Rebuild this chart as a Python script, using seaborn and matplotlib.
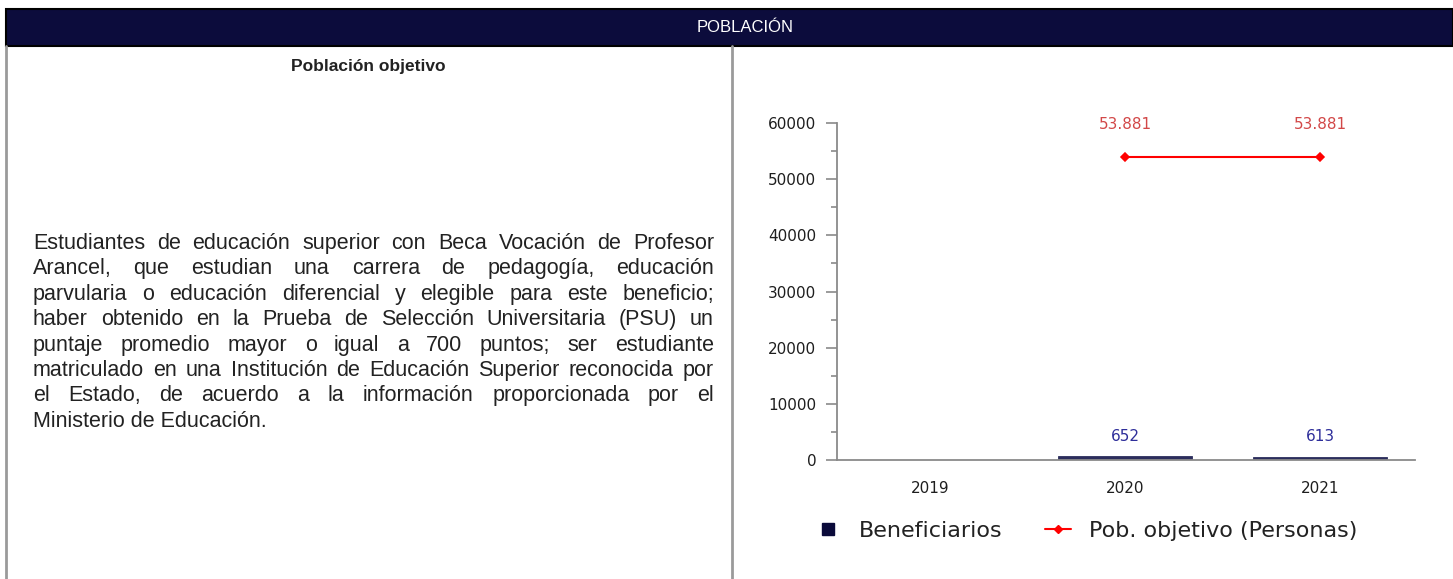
import matplotlib
matplotlib.use("Agg")
import matplotlib.pyplot as plt
import seaborn as sns
import pandas as pd
import numpy as np
from matplotlib.lines import Line2D
from matplotlib.patches import Rectangle
from matplotlib.ticker import MultipleLocator
from matplotlib.font_manager import FontProperties

# ---------------- data ----------------
years = ["2019", "2020", "2021"]
beneficiarios = [np.nan, 652, 613]
pob_objetivo = [np.nan, 53881, 53881]
y_ticks = [0, 10000, 20000, 30000, 40000, 50000, 60000]
legend_labels = ["Beneficiarios", "Pob. objetivo (Personas)"]
header_title = "POBLACIÓN"
panel_title = "Población objetivo"
body_lines = [
    "Estudiantes de educación superior con Beca Vocación de Profesor",
    "Arancel, que estudian una carrera de pedagogía, educación",
    "parvularia o educación diferencial y elegible para este beneficio;",
    "haber obtenido en la Prueba de Selección Universitaria (PSU) un",
    "puntaje promedio mayor o igual a 700 puntos; ser estudiante",
    "matriculado en una Institución de Educación Superior reconocida por",
    "el Estado, de acuerdo a la información proporcionada por el",
    "Ministerio de Educación.",
]

W, H = 1453, 579
sns.set_theme(style="white")
plt.rcParams["font.family"] = ["DejaVu Sans"]

fig = plt.figure(figsize=(W / 100, H / 100), dpi=100)


def fx(x):
    return x / W


def fy(y):
    return 1 - y / H


# ---------------- frame / header ----------------
fig.patches.append(Rectangle((fx(6), fy(46)), fx(W) - fx(6), (46 - 9) / H,
                             transform=fig.transFigure, facecolor="#0c0c3c",
                             edgecolor="#000000", lw=1.5, zorder=0))
for xline in (6, 732):
    fig.lines.append(Line2D([fx(xline), fx(xline)], [fy(46), fy(H)],
                            transform=fig.transFigure, color="#9a9a9a", lw=2))

arial = "Liberation Sans"
fig.text(fx(745), fy(28), header_title, color="white", ha="center", va="center",
         family=arial, fontsize=12)
fig.text(fx(368), fy(67), panel_title, color="#222222", ha="center", va="center",
         family=arial, fontsize=12.5, fontweight="bold")

# ---------------- justified body text ----------------
fp = FontProperties(family=arial, size=15.5)
renderer = fig.canvas.get_renderer()
x_left, x_right = 33, 714
base0, line_gap = 249, 25.4
for i, line in enumerate(body_lines):
    yb = base0 + i * line_gap
    words = line.split(" ")
    if i == len(body_lines) - 1 or len(words) == 1:
        fig.text(fx(x_left), fy(yb), line, fontproperties=fp, color="#222222",
                 ha="left", va="baseline")
        continue
    widths = [renderer.get_text_width_height_descent(w, fp, ismath=False)[0] for w in words]
    gap = (x_right - x_left - sum(widths)) / (len(words) - 1)
    x = x_left
    for w, wd in zip(words, widths):
        fig.text(fx(x), fy(yb), w, fontproperties=fp, color="#222222",
                 ha="left", va="baseline")
        x += wd + gap

# ---------------- chart ----------------
ax = fig.add_axes([fx(837), fy(460), (1415 - 837) / W, (460 - 123) / H])
df = pd.DataFrame({"year": years, "ben": beneficiarios, "pob": pob_objetivo})

sns.barplot(data=df, x="year", y="ben", color="#2b2d5c", saturation=1,
            width=0.69, ax=ax, errorbar=None, edgecolor="#2b2d5c", linewidth=0.6)
sns.pointplot(data=df, x="year", y="pob", color="#ff0000", markers="D",
              markersize=4, linewidth=1.5, errorbar=None, ax=ax)


def fmt(v):
    return f"{v:,.0f}".replace(",", ".")


for i, v in enumerate(beneficiarios):
    if not np.isnan(v):
        ax.annotate(fmt(v), (i, v), xytext=(0, 9), textcoords="offset points",
                    ha="center", va="bottom", color="#2e2e9a", fontsize=11)
for i, v in enumerate(pob_objetivo):
    if not np.isnan(v):
        ax.annotate(fmt(v), (i, v), xytext=(0, 23.5), textcoords="offset points",
                    ha="center", va="center", color="#d24848", fontsize=11)

ax.set_ylim(0, 60000)
ax.set_xlim(-0.477, 2.487)
ax.set_yticks(y_ticks)
ax.yaxis.set_minor_locator(MultipleLocator(5000))
ax.set_xlabel("")
ax.set_ylabel("")
sns.despine(ax=ax)
for s in ("left", "bottom"):
    ax.spines[s].set_color("#8a8a8a")
    ax.spines[s].set_linewidth(1.3)
ax.tick_params(axis="y", which="major", left=True, length=8, width=1.2,
               color="#8a8a8a", labelsize=11, labelcolor="#1e1e1e", pad=7)
ax.tick_params(axis="y", which="minor", left=True, length=4.5, width=1.2,
               color="#8a8a8a")
ax.tick_params(axis="x", which="both", bottom=False, length=0, labelsize=11,
               labelcolor="#1e1e1e", pad=15)
ax.set_facecolor("white")

handles = [
    Line2D([], [], marker="s", linestyle="None", markersize=9,
           markerfacecolor="#0a0a3a", markeredgecolor="#0a0a3a"),
    Line2D([], [], color="#ff0000", marker="D", markersize=4.5, lw=1.5),
]
fig.legend(handles, legend_labels, loc="center", bbox_to_anchor=(fx(1086), fy(531)),
           ncol=2, frameon=False, fontsize=16, handlelength=1.2,
           columnspacing=1.9, handletextpad=0.8, labelcolor="#222222")

fig.savefig("out.png", dpi=100, facecolor="white")
